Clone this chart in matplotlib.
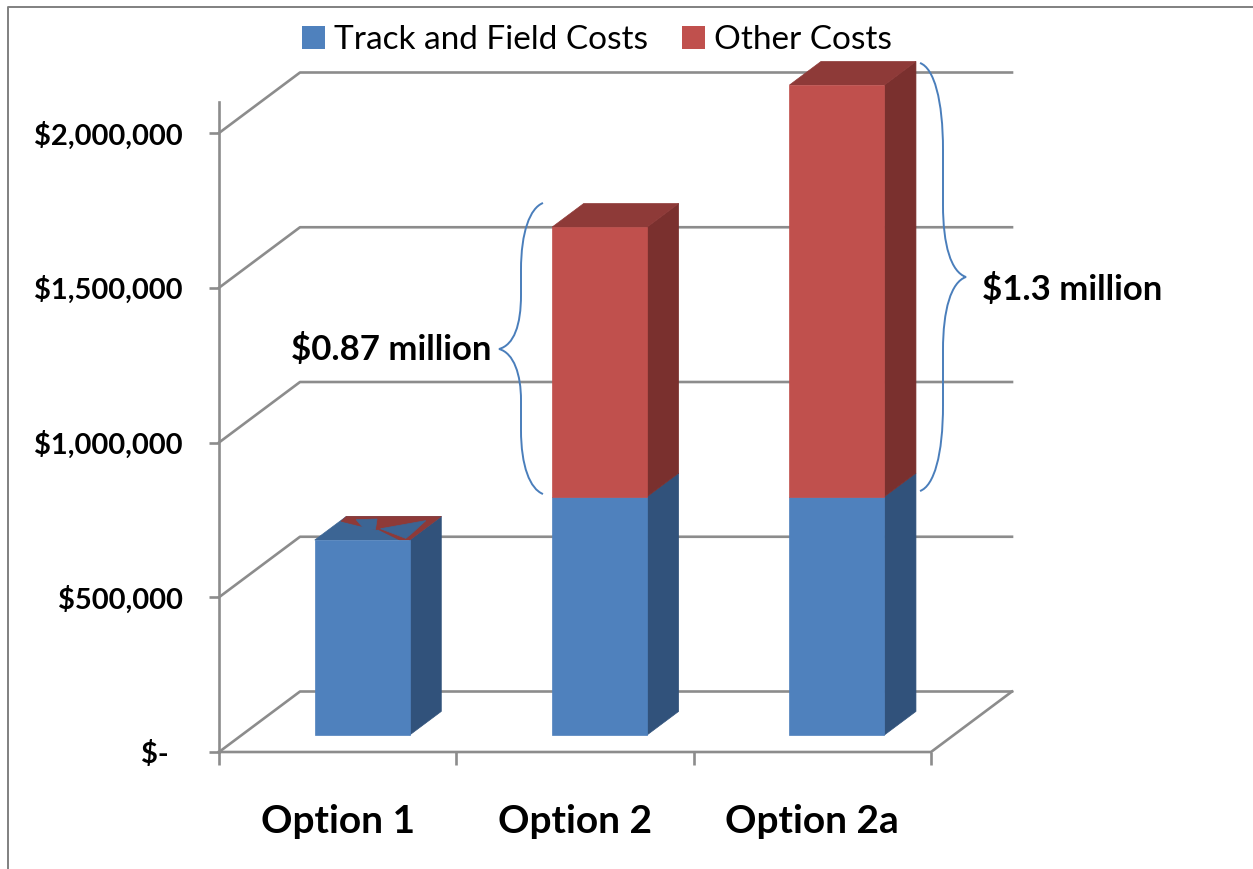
import numpy as np
import matplotlib.pyplot as plt
from matplotlib.lines import Line2D
from matplotlib.patches import Patch, Polygon, PathPatch
from matplotlib.path import Path
from matplotlib.transforms import Affine2D

options = ["Option 1", "Option 2", "Option 2a"]
track_costs = [630000, 770000, 770000]
other_costs = [0, 871000, 1330000]
grid_values = [0, 500000, 1000000, 1500000, 2000000]
tick_labels = ["$-\u00a0\u00a0", "$500,000", "$1,000,000", "$1,500,000", "$2,000,000"]

# bits of the red top that poke through on Option 1 (across, depth)
glitch_red = [(.013, .795), (0, 1), (1, 1), (1, 0), (.895, 0), (.528, .438), (.493, .438)]
glitch_blue = [[(.149, .863), (.36, .89), (.493, .438), (.358, .479)],
               [(.533, .479), (.896, .822), (.93, .274), (.936, .068)]]

W, H = 1253, 869
grid_col = "#8c8c8c"
blue = ["#4f81bd", "#3c6594", "#31527b"]
red = ["#c0504d", "#8e3a38", "#7a302e"]
brace_col = "#4a7ebb"

# oblique depth of the fake 3d box
px_per_500k = 154.75
depth_x = 81 / 237.33
depth_y = 60.5 / px_per_500k * 500000
front_d = 17 / 60.5
bar_d = 0.39
bar_left = 0.3076
bar_w = 0.4

plt.rcParams["font.family"] = ["Lato", "DejaVu Sans"]
fig = plt.figure(figsize=(W / 100, H / 100), dpi=100)
ax = fig.add_axes([219 / W, 1 - 752 / H, 712 / W, 650 / H])
ax.set_xlim(0, 3)
ax.set_ylim(0, 650 / px_per_500k * 500000)


def proj(x, v, d):
    return x + d * depth_x, v + d * depth_y


def face(points, color, z=3):
    ax.add_patch(Polygon([proj(*p) for p in points], closed=True, fc=color, ec=color,
                         lw=0.5, clip_on=False, zorder=z))


# walls
for v in grid_values:
    xs, ys = zip(proj(0, v, 0), proj(0, v, 1), proj(3, v, 1))
    ax.plot(xs, ys, color=grid_col, lw=1.9, clip_on=False, zorder=1)
xs, ys = zip(proj(0, 0, 0), proj(3, 0, 0), proj(3, 0, 1))
ax.plot(xs, ys, color=grid_col, lw=1.9, clip_on=False, zorder=1)

# bars
for i in range(len(options)):
    x0 = i + bar_left
    x1 = x0 + bar_w
    d0 = front_d
    d1 = front_d + bar_d
    base = 0
    for val, cols in ((track_costs[i], blue), (other_costs[i], red)):
        if val == 0:
            continue
        top = base + val
        face([(x0, base, d0), (x1, base, d0), (x1, top, d0), (x0, top, d0)], cols[0], 4)
        face([(x1, base, d0), (x1, base, d1), (x1, top, d1), (x1, top, d0)], cols[2], 3)
        base = top
    top_cols = red if other_costs[i] > 0 else blue
    face([(x0, base, d0), (x1, base, d0), (x1, base, d1), (x0, base, d1)], top_cols[1], 3)
    if other_costs[i] == 0:
        def on_top(u, w):
            return (x0 + u * bar_w, base, d0 + w * bar_d)
        face([on_top(u, w) for u, w in glitch_red], red[1], 3.1)
        for patch in glitch_blue:
            face([on_top(u, w) for u, w in patch], blue[1], 3.2)

# axes
for s in ["top", "right", "bottom"]:
    ax.spines[s].set_visible(False)
ax.spines["left"].set_color(grid_col)
ax.spines["left"].set_linewidth(1.9)
ax.patch.set_visible(False)
ax.set_yticks(grid_values)
ax.set_yticklabels(tick_labels, fontsize=21, fontweight="bold")
ax.tick_params(axis="y", length=7, width=1.9, color=grid_col, pad=19)
ax.set_xticks([0, 1, 2, 3])
ax.set_xticklabels([])
ax.tick_params(axis="x", length=9, width=1.9, color=grid_col)
ax.set_xticks([0.5, 1.5, 2.5], minor=True)
ax.set_xticklabels(options, minor=True, fontsize=28, fontweight="bold")
ax.tick_params(axis="x", which="minor", length=0, pad=37.5)

handles = [Patch(fc=blue[0], label="Track and Field Costs"), Patch(fc=red[0], label="Other Costs")]
fig.legend(handles=handles, ncol=2, frameon=False, fontsize=24, loc="center",
           bbox_to_anchor=(597 / W, 1 - 40 / H), handlelength=0.69, handleheight=0.69,
           handletextpad=0.27, columnspacing=1.0, borderpad=0)

# annotations, in image pixels
px = Affine2D().scale(1, -1).translate(0, H)
C = Path.CURVE4
L = Path.LINETO
M = Path.MOVETO
brace_codes = [M, C, C, C, L, C, C, C, C, C, C, L, C, C, C]
left_brace = Path([(543, 203), (530, 208), (521, 232), (521, 270), (521, 295),
                   (521, 325), (514, 345), (499, 349),
                   (514, 353), (521, 375), (521, 400), (521, 430),
                   (521, 466), (530, 489), (543, 494)], brace_codes)
right_brace = Path([(920, 63), (934, 68), (943, 100), (943, 150), (943, 205),
                    (943, 245), (951, 272), (966, 277),
                    (951, 282), (943, 310), (943, 350), (943, 405),
                    (943, 455), (934, 486), (920, 491)], brace_codes)
for p in (left_brace, right_brace):
    fig.add_artist(PathPatch(p, fc="none", ec=brace_col, lw=1.4, transform=px))
fig.text(391, H - 349, "$0.87 million", transform=None, fontsize=25, fontweight="bold",
         ha="center", va="center")
fig.text(1072, H - 290, "$1.3 million", transform=None, fontsize=25, fontweight="bold",
         ha="center", va="center")

# slide border
fig.add_artist(Line2D([8, 8, W], [H, 7, 7], color="#808080", lw=1.4, transform=px))

fig.savefig("out.png", dpi=100)
